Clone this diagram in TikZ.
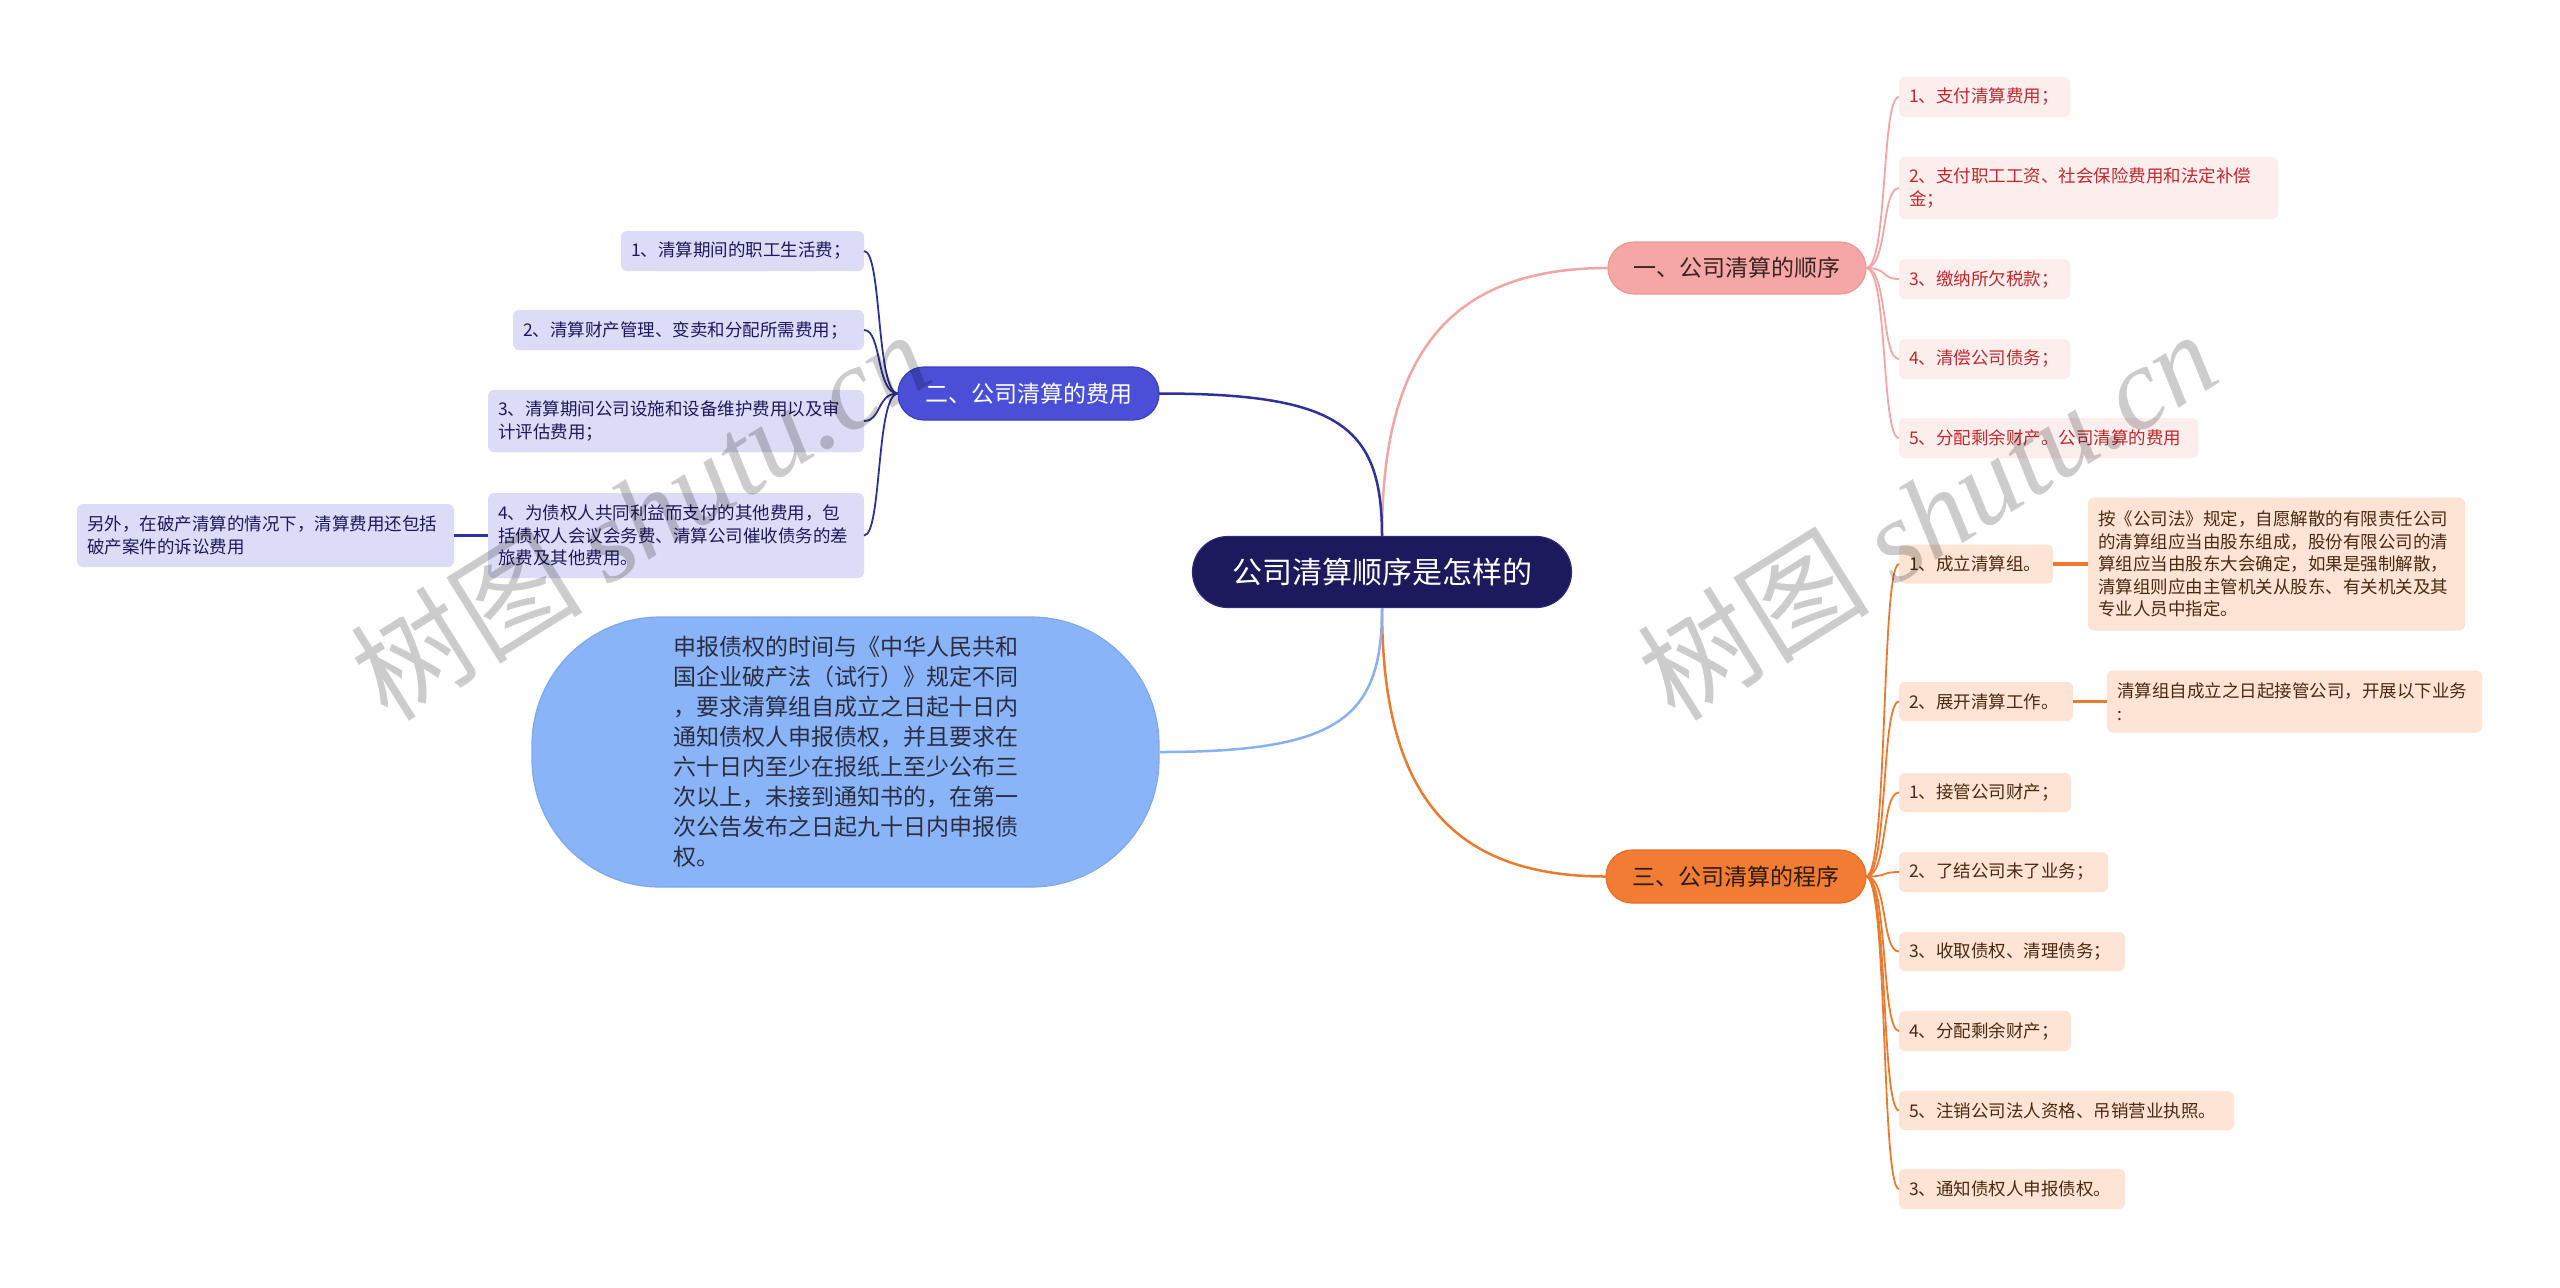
\documentclass[tikz,border=0pt]{standalone}
\usepackage{fontspec}
\setmainfont{Noto Sans CJK SC}
\newfontfamily\wmlatin{Liberation Serif}
\definecolor{cCenter}{HTML}{1B1A5C}
\definecolor{cCenterEdge}{HTML}{2C2A78}
\definecolor{cBa}{HTML}{F5A7A5}
\definecolor{cBaEdge}{HTML}{EE9896}
\definecolor{cBaLine}{HTML}{F0A6A4}
\definecolor{cBaKid}{HTML}{FDEEEE}
\definecolor{cBaKidText}{HTML}{C0282D}
\definecolor{cBaText}{HTML}{3B2323}
\definecolor{cBb}{HTML}{4A4FD8}
\definecolor{cBbEdge}{HTML}{3A3FC0}
\definecolor{cBbLine}{HTML}{2E3196}
\definecolor{cBbKid}{HTML}{DCDCF7}
\definecolor{cBbKidText}{HTML}{1B1A5C}
\definecolor{cBc}{HTML}{F27C33}
\definecolor{cBcEdge}{HTML}{E66E26}
\definecolor{cBcLine}{HTML}{EA7A30}
\definecolor{cBcKid}{HTML}{FDE4D4}
\definecolor{cBcKidText}{HTML}{4B2A12}
\definecolor{cBcText}{HTML}{2B1A0E}
\definecolor{cBd}{HTML}{8AB4F8}
\definecolor{cBdEdge}{HTML}{7EA8EE}
\definecolor{cBdLine}{HTML}{8AB0EE}
\definecolor{cBdText}{HTML}{2B2D42}
\newcommand\fkid{\fontsize{8.75pt}{11.25pt}\selectfont}
\newcommand\fmain{\fontsize{11.5pt}{14pt}\selectfont}
\newcommand\fbig{\fontsize{11.5pt}{15pt}\selectfont}
\newcommand\fcenter{\fontsize{15pt}{18pt}\selectfont}
\begin{document}
\begin{tikzpicture}[x=0.5pt,y=-0.5pt,
  kid/.style={rounded corners=3pt, inner xsep=5pt, inner ysep=0pt, outer sep=0pt, align=left, font=\fkid},
  kida/.style={kid, fill=cBaKid, text=cBaKidText},
  kidb/.style={kid, fill=cBbKid, text=cBbKidText},
  kidc/.style={kid, fill=cBcKid, text=cBcKidText},
  topic/.style={rounded corners=13pt, inner sep=0pt, outer sep=0pt, align=center, font=\fmain, line width=0.6pt},
  lna/.style={draw=cBaLine, line width=1.25pt},
  lnb/.style={draw=cBbLine, line width=1.25pt},
  lnc/.style={draw=cBcLine, line width=1.25pt},
  lnd/.style={draw=cBdLine, line width=1.25pt},
  kla/.style={draw=cBaLine, line width=0.9pt},
  klb/.style={draw=cBbLine, line width=0.9pt},
  klc/.style={draw=cBcLine, line width=0.9pt},
  dlb/.style={draw=cBbLine, line width=1.4pt},
  dlc/.style={draw=cBcLine, line width=1.6pt},
  wm/.style={rotate=32, text=black, text opacity=0.2, inner sep=0pt, font=\fontsize{58pt}{60pt}\selectfont}
]
\useasboundingbox (0,0) rectangle (2560,1287);
\fill[white] (0,0) rectangle (2560,1287);

% central topic
\node[rounded corners=17.75pt, fill=cCenter, draw=cCenterEdge, line width=0.6pt, text=white,
      minimum width=189.5pt, minimum height=35.5pt, inner sep=0pt, font=\fcenter] (ctr) at (1382,572) {公司清算顺序是怎样的};

% main branches
\node[topic, fill=cBa, draw=cBaEdge, text=cBaText, minimum width=129pt, minimum height=26pt] (ba) at (1737,268) {一、公司清算的顺序};
\node[topic, fill=cBb, draw=cBbEdge, text=white, minimum width=130.5pt, minimum height=26.5pt] (bb) at (1028.5,393.5) {二、公司清算的费用};
\node[topic, fill=cBc, draw=cBcEdge, text=cBcText, minimum width=130pt, minimum height=26.5pt] (bc) at (1736,876.5) {三、公司清算的程序};
\node[rounded corners=64pt, fill=cBd, draw=cBdEdge, line width=0.6pt, text=cBdText, font=\fbig,
      minimum width=313.5pt, minimum height=135pt, inner sep=0pt, align=left] (bd) at (845.5,752)
  {申报债权的时间与《中华人民共和\\国企业破产法（试行）》规定不同\\，要求清算组自成立之日起十日内\\通知债权人申报债权，并且要求在\\六十日内至少在报纸上至少公布三\\次以上，未接到通知书的，在第一\\次公告发布之日起九十日内申报债\\权。};

% branch a children
\node[kida, text width=75.5pt, minimum height=20pt] (a1) at (1984.5,97) {1、支付清算费用；};
\node[kida, text width=179.5pt, minimum height=31pt] (a2) at (2088.5,188) {2、支付职工工资、社会保险费用和法定补偿\\金；};
\node[kida, text width=75.5pt, minimum height=20pt] (a3) at (1984.5,279) {3、缴纳所欠税款；};
\node[kida, text width=75.5pt, minimum height=20pt] (a4) at (1984.5,359) {4、清偿公司债务；};
\node[kida, text width=139.5pt, minimum height=20pt] (a5) at (2048.5,438) {5、分配剩余财产。公司清算的费用};

% branch b children
\node[kidb, text width=111.5pt, minimum height=20pt] (b1) at (742.5,251) {1、清算期间的职工生活费；};
\node[kidb, text width=165.5pt, minimum height=20pt] (b2) at (688.5,330) {2、清算财产管理、变卖和分配所需费用；};
\node[kidb, text width=178pt, minimum height=31pt] (b3) at (676,421) {3、清算期间公司设施和设备维护费用以及审\\计评估费用；};
\node[kidb, text width=178pt, minimum height=42.5pt] (b4) at (676,535.5) {4、为债权人共同利益而支付的其他费用，包\\括债权人会议会务费、清算公司催收债务的差\\旅费及其他费用。};
\node[kidb, text width=178.5pt, minimum height=31.5pt] (b5) at (265.5,535.5) {另外，在破产清算的情况下，清算费用还包括\\破产案件的诉讼费用};

% branch c children
\node[kidc, text width=67pt, minimum height=19.5pt] (c1) at (1976,564) {1、成立清算组。};
\node[kidc, text width=178.5pt, minimum height=66.5pt] (c1d) at (2276.5,564) {按《公司法》规定，自愿解散的有限责任公司\\的清算组应当由股东组成，股份有限公司的清\\算组应当由股东大会确定，如果是强制解散，\\清算组则应由主管机关从股东、有关机关及其\\专业人员中指定。};
\node[kidc, text width=77pt, minimum height=19.5pt] (c2) at (1986,701.5) {2、展开清算工作。};
\node[kidc, text width=177.5pt, minimum height=31pt] (c2d) at (2294.5,701.5) {清算组自成立之日起接管公司，开展以下业务\\:};
\node[kidc, text width=76pt, minimum height=19.5pt] (c3) at (1985,792.5) {1、接管公司财产；};
\node[kidc, text width=94.5pt, minimum height=20pt] (c4) at (2003.5,872) {2、了结公司未了业务；};
\node[kidc, text width=103pt, minimum height=19.5pt] (c5) at (2012,951.5) {3、收取债权、清理债务；};
\node[kidc, text width=76pt, minimum height=20pt] (c6) at (1985,1031) {4、分配剩余财产；};
\node[kidc, text width=157.5pt, minimum height=19.5pt] (c7) at (2066.5,1110.5) {5、注销公司法人资格、吊销营业执照。};
\node[kidc, text width=103pt, minimum height=20pt] (c8) at (2012,1189) {3、通知债权人申报债权。};

% main connectors
\draw[lna] (ctr.north) .. controls +(0,-180) and +(-160,0) .. (ba.west);
\draw[lnb] (ctr.north) .. controls +(0,-110) and +(180,0) .. (bb.east);
\draw[lnc] (ctr.south) .. controls +(0,180) and +(-160,0) .. (bc.west);
\draw[lnd] (ctr.south) .. controls +(0,110) and +(180,0) .. (bd.east);

% branch a connectors
\foreach \k in {a1,a2,a3,a4,a5}
  \draw[kla] (ba.east) .. controls +(22,0) and +(-18,0) .. (\k.west);
% branch b connectors
\foreach \k in {b1,b2,b3,b4}
  \draw[klb] (bb.west) .. controls +(-22,0) and +(18,0) .. (\k.east);
\draw[dlb] (b4.west) -- (b5.east);
% branch c connectors
\foreach \k in {c1,c2,c3,c4,c5,c6,c7,c8}
  \draw[klc] (bc.east) .. controls +(22,0) and +(-18,0) .. (\k.west);
\draw[dlc] (c1.east) -- (c1d.west);
\draw[dlc] (c2.east) -- (c2d.west);

% watermarks
\node[wm] (wm1) at (640,514) {树图 {\wmlatin\itshape shutu.cn}};
\node[wm] (wm2) at (1927,514) {树图 {\wmlatin\itshape shutu.cn}};
\end{tikzpicture}
\end{document}
